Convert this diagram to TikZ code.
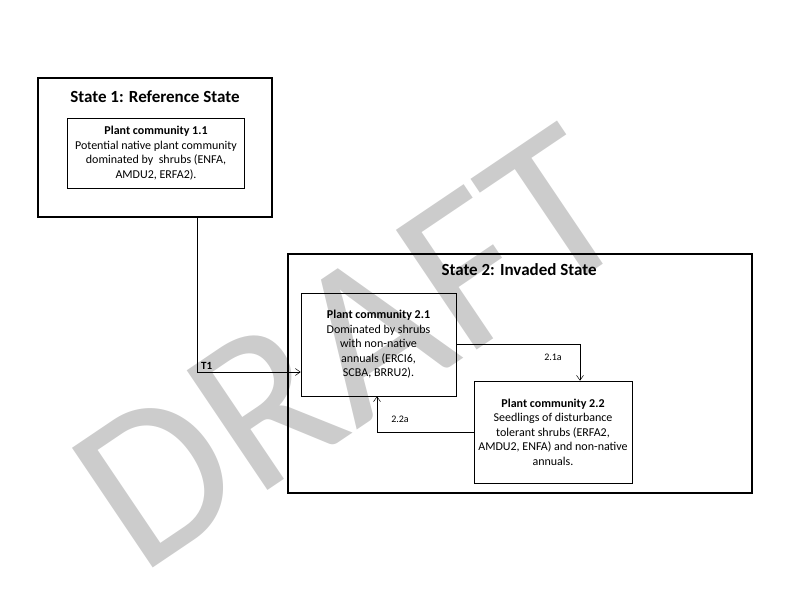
\documentclass[tikz,border=0pt]{standalone}
\usepackage{fontspec}
\setmainfont{Carlito}
\usetikzlibrary{arrows.meta}
\begin{document}
\begin{tikzpicture}[x=1pt,y=-1pt,
  outer/.style={draw,line width=2pt},
  inner/.style={draw,line width=0.6pt,align=center,font=\fontsize{12}{14.5}\selectfont},
  conn/.style={-{Straight Barb[length=5pt,width=7pt]},line width=0.5pt},
  lbl/.style={font=\fontsize{10}{12}\selectfont}]
\useasboundingbox (0,0) rectangle (800,600);
\node[rotate=34,text=black!20,font=\fontsize{225}{225}\selectfont] (wm) at (350,348) {DRAFT};
\draw[outer] (38,78) rectangle (272,217);
\node[font=\bfseries\fontsize{17}{19}\selectfont] (t1) at (155,97) {State 1: Reference State};
\node[inner,minimum width=177pt,minimum height=70pt,inner sep=1pt] (p11) at (156,153)
  {\textbf{Plant community 1.1}\\Potential native plant community\\dominated by\ \ shrubs (ENFA,\\AMDU2, ERFA2).};
\coordinate (s1b) at (197,217);
\draw[outer] (288,254) rectangle (752,493);
\node[font=\bfseries\fontsize{17}{19}\selectfont] (t2) at (519,270) {State 2: Invaded State};
\node[inner,minimum width=155pt,minimum height=103pt,inner sep=1pt] (p21) at (378.5,344.5)
  {\textbf{Plant community 2.1}\\Dominated by shrubs\\with non-native\\annuals (ERCI6,\\SCBA, BRRU2).};
\node[inner,minimum width=158pt,minimum height=102pt,inner sep=1pt] (p22) at (553,432)
  {\textbf{Plant community 2.2}\\Seedlings of disturbance\\tolerant shrubs (ERFA2,\\AMDU2, ENFA) and non-native\\annuals.};
\draw[conn] (s1b) |- (p21.west |- 0,372);
\node[font=\bfseries\fontsize{11}{12}\selectfont,anchor=south west,inner sep=1pt] (t1l) at (200,371) {T1};
\draw[conn] (p21.east |- 0,344) -| (p22.north -| 580,0);
\node[lbl] (l21) at (553,357) {2.1a};
\draw[conn] (p22.west |- 0,432) -| (p21.south -| 377,0);
\node[lbl] (l22) at (400,419) {2.2a};
\end{tikzpicture}
\end{document}
